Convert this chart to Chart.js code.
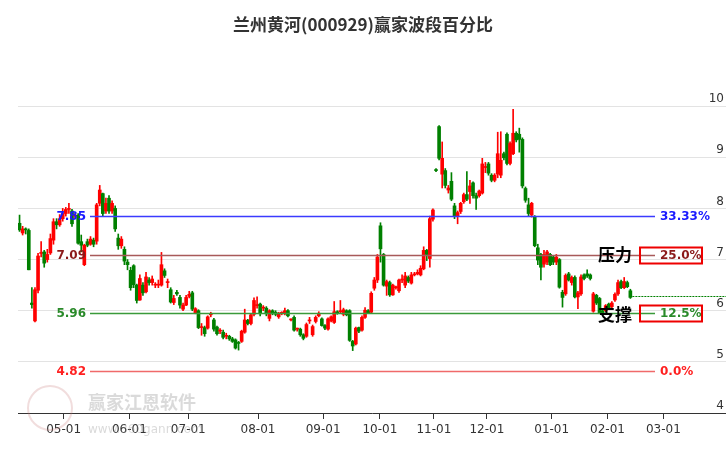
<!DOCTYPE html>
<html><head><meta charset="utf-8">
<script src="https://cdn.jsdelivr.net/npm/chart.js@4/dist/chart.umd.min.js"></script>
<style>html,body{margin:0;padding:0;background:#fff}#w{width:726px;height:450px}</style>
</head><body><div id="w"><canvas id="c"></canvas></div>
<script>
const candles = [
[7.71,7.58,7.87,7.55],[7.52,7.6,7.65,7.48],[7.6,7.58,7.62,7.5],[7.57,6.8,7.6,6.8],[6.15,6.12,6.45,6.05],
[5.8,6.41,6.45,5.78],[6.4,7.07,7.12,6.35],[7.12,7.13,7.35,7.05],[7.15,6.93,7.18,6.85],[7.0,7.1,7.2,6.95],
[7.13,7.41,7.5,7.1],[7.38,7.74,7.8,7.3],[7.74,7.68,7.8,7.6],[7.68,7.8,7.88,7.65],[7.8,7.9,8.0,7.75],
[7.9,7.98,8.02,7.85],[7.98,8.0,8.1,7.9],[7.95,7.7,7.98,7.65],[7.85,7.85,7.9,7.8],[7.87,7.32,7.9,7.3],
[7.35,7.28,7.48,7.15],[6.9,7.28,7.3,6.88],[7.35,7.28,7.4,7.25],[7.3,7.4,7.45,7.28],[7.38,7.3,7.42,7.25],
[7.36,8.07,8.1,7.3],[8.1,8.36,8.45,8.05],[8.29,7.9,8.3,7.85],[7.95,8.1,8.2,7.9],[8.2,7.95,8.25,7.9],
[7.95,8.1,8.15,7.9],[8.0,7.6,8.05,7.55],[7.42,7.27,7.5,7.2],[7.27,7.4,7.45,7.22],[7.2,6.97,7.25,6.9],
[6.95,6.9,7.0,6.8],[6.79,6.45,6.85,6.4],[6.88,6.51,6.9,6.45],[6.5,6.2,6.52,6.15],[6.21,6.63,6.7,6.2],
[6.5,6.35,6.55,6.3],[6.37,6.66,6.75,6.35],[6.6,6.55,6.65,6.5],[6.55,6.62,6.68,6.5],[6.5,6.5,6.55,6.45],
[6.5,6.5,6.6,6.45],[6.5,6.9,7.14,6.48],[6.78,6.69,6.82,6.65],[6.55,6.55,6.62,6.45],[6.41,6.17,6.45,6.15],
[6.16,6.24,6.3,6.12],[6.36,6.33,6.4,6.3],[6.26,6.11,6.3,6.05],[6.03,6.11,6.15,6.0],[6.11,6.26,6.3,6.1],
[6.28,6.32,6.38,6.25],[6.35,6.03,6.38,6.0],[5.96,6.04,6.06,5.94],[6.0,5.67,6.02,5.65],[5.67,5.67,5.75,5.52],
[5.67,5.55,5.7,5.5],[5.66,5.88,5.9,5.64],[5.92,5.92,5.97,5.88],[5.82,5.64,5.85,5.6],[5.68,5.55,5.7,5.52],
[5.6,5.6,5.65,5.55],[5.58,5.48,5.62,5.45],[5.5,5.5,5.56,5.45],[5.5,5.45,5.52,5.42],[5.45,5.4,5.48,5.38],
[5.43,5.27,5.45,5.25],[5.38,5.36,5.4,5.23],[5.4,5.6,5.62,5.38],[5.58,5.82,6.03,5.56],[5.81,5.75,5.83,5.72],
[5.75,5.92,5.95,5.72],[5.93,6.2,6.25,5.9],[6.1,6.1,6.27,6.05],[6.13,5.94,6.15,5.9],[6.05,6.05,6.1,6.0],
[6.05,5.94,6.08,5.9],[5.85,6.0,6.02,5.8],[6.0,5.95,6.02,5.92],[5.97,5.93,6.0,5.9],[5.88,5.95,5.97,5.85],
[5.95,5.95,5.98,5.92],[5.94,6.0,6.05,5.92],[6.0,5.9,6.02,5.88],[5.82,5.82,5.84,5.8],[5.87,5.62,5.9,5.6],
[5.64,5.64,5.66,5.6],[5.64,5.53,5.66,5.5],[5.53,5.46,5.55,5.43],[5.5,5.73,5.76,5.48],[5.8,5.8,5.87,5.75],
[5.53,5.69,5.72,5.5],[5.79,5.87,5.9,5.76],[5.9,5.95,5.98,5.88],[5.84,5.71,5.86,5.7],[5.71,5.66,5.73,5.63],
[5.64,5.84,5.86,5.62],[5.8,5.88,5.9,5.78],[5.77,5.98,6.18,5.75],[5.98,5.95,6.0,5.93],[5.98,6.0,6.2,5.96],
[5.93,6.02,6.05,5.9],[6.0,5.92,6.02,5.9],[6.0,5.42,6.02,5.4],[5.4,5.31,5.42,5.22],[5.35,5.66,5.68,5.33],
[5.67,5.6,5.68,5.57],[5.62,5.87,5.9,5.6],[5.87,6.01,6.06,5.85],[6.0,5.96,6.02,5.94],[5.97,6.34,6.37,5.95],
[6.44,6.6,6.65,6.4],[6.6,7.05,7.1,6.55],[7.66,7.21,7.72,6.95],[7.1,6.5,7.12,6.48],[6.48,6.57,6.6,6.3],
[6.55,6.31,6.58,6.28],[6.31,6.5,6.52,6.3],[6.45,6.45,6.48,6.42],[6.39,6.6,6.62,6.36],[6.6,6.6,6.7,6.55],
[6.5,6.68,6.75,6.45],[6.65,6.58,6.68,6.55],[6.54,6.7,6.75,6.52],[6.7,6.7,6.75,6.68],[6.72,6.75,6.8,6.7],
[6.7,6.83,6.88,6.68],[6.82,7.18,7.25,6.8],[7.18,7.1,7.2,6.98],[7.02,7.8,7.85,6.85],[7.79,7.97,7.99,7.75],
[8.76,8.74,8.78,8.72],[9.6,8.98,9.62,8.95],[8.67,8.98,9.3,8.4],[8.74,8.45,8.78,8.4],[8.36,8.4,8.45,8.3],
[8.53,8.18,8.7,8.15],[8.05,7.84,8.1,7.8],[7.84,7.92,7.95,7.7],[7.94,8.1,8.12,7.9],[8.13,8.27,8.3,8.1],
[8.27,8.18,8.72,8.15],[8.33,8.44,8.55,8.1],[8.5,8.25,8.52,8.2],[8.25,8.2,8.3,7.98],[8.25,8.34,8.36,8.22],
[8.3,8.87,8.98,8.28],[8.8,8.82,8.9,8.7],[8.87,8.69,8.9,8.65],[8.65,8.55,8.68,8.52],[8.55,8.65,8.68,8.52],
[8.67,9.07,9.49,8.6],[8.65,8.94,9.5,8.6],[9.07,8.99,9.1,8.95],[9.45,8.88,9.48,8.85],[8.88,9.27,9.3,8.85],
[9.07,9.47,9.94,9.05],[9.47,9.34,9.5,9.3],[9.45,9.35,9.57,9.1],[9.35,8.44,9.38,8.4],[8.39,8.16,8.42,8.12],
[8.07,7.9,8.2,7.85],[7.87,8.1,8.12,7.83],[7.84,7.27,7.86,7.25],[7.23,6.99,7.3,6.9],[7.1,6.85,7.12,6.6],
[6.91,7.1,7.18,6.85],[6.95,7.15,7.18,6.9],[7.1,6.9,7.12,6.88],[7.05,6.95,7.07,6.9],[6.95,7.05,7.1,6.9],
[7.0,6.46,7.02,6.44],[6.36,6.26,6.4,6.07],[6.33,6.69,6.72,6.3],[6.72,6.6,6.75,6.58],[6.55,6.65,6.68,6.5],
[6.65,6.27,6.68,6.25],[6.27,6.35,6.38,6.04],[6.33,6.66,6.7,6.3],[6.7,6.63,6.72,6.6],[6.72,6.68,6.8,6.65],
[6.7,6.63,6.72,6.6],[5.99,6.33,6.36,5.97],[6.3,6.15,6.32,6.12],[6.24,5.96,6.26,5.94],[6.0,5.95,6.02,5.92],
[6.0,6.1,6.12,5.98],[6.13,6.05,6.15,6.02],[6.08,6.15,6.18,6.05],[6.21,6.32,6.35,6.18],[6.33,6.55,6.6,6.3],
[6.57,6.45,6.6,6.43],[6.45,6.57,6.65,6.43],[6.55,6.47,6.58,6.45],[6.39,6.26,6.42,6.24]
];
const monthLabels = ['05-01','06-01','07-01','08-01','09-01','10-01','11-01','12-01','01-01','02-01','03-01'];
const monthIdx = [14.3,35.6,54.7,77.3,98.4,116.8,134.3,151.5,172.5,190.6,208.7];
const yTicks = [4,5,6,7,8,9,10];
const levelValues = [7.85,7.09,5.96,4.82];
const levelLabels = ['7.85','7.09','5.96','4.82'];
const levelPct = ['33.33%','25.0%','12.5%','0.0%'];
const levelColors = ['#3b3bff','#a85a5a','#3a9a3a','#f06a6a'];
const levelTextColors = ['#1a1aff','#8b1a1a','#2a8a2a','#ff2020'];
const lastPrice = 6.28;

const RED='#ff0000', GREEN='#008000';
const col = candles.map(d => d[1] >= d[0] ? RED : GREEN);
const wicks = candles.map((d,i)=>({x:i,y:[d[3],d[2]]}));
const bodies = candles.map((d,i)=>({x:i,y:[d[0],d[1]]}));

const overlay = {
  id:'overlay',
  beforeDatasetsDraw(ch){
    const c=ch.ctx;
    c.save();
    c.strokeStyle='rgba(200,120,120,0.25)'; c.lineWidth=2;
    c.beginPath(); c.arc(50,408,22,0,Math.PI*2); c.stroke();
    c.fillStyle='rgba(150,150,150,0.35)';
    c.font='bold 18px "Noto Sans CJK SC"'; c.textBaseline='middle'; c.textAlign='left';
    c.fillText('赢家江恩软件',88,402);
    c.font='12px "DejaVu Sans"'; c.fillText('www.360gann.com',88,430);
    c.restore();
  },
  afterDatasetsDraw(ch){
    const c=ch.ctx, y=ch.scales.y;
    c.save();
    c.textBaseline='middle';
    levelValues.forEach((v,k)=>{
      const py=Math.round(y.getPixelForValue(v))+0.5;
      c.strokeStyle=levelColors[k]; c.lineWidth=1.5;
      c.beginPath(); c.moveTo(90,py); c.lineTo(655,py); c.stroke();
      c.font='bold 12px "DejaVu Sans"'; c.fillStyle=levelTextColors[k];
      c.textAlign='right'; c.fillText(levelLabels[k],86,py);
      c.textAlign='left'; c.fillText(levelPct[k],660,py);
      if(k===1||k===2){c.strokeStyle='#ee0000';c.lineWidth=2;c.strokeRect(640,py-8,62,16);}
    });
    c.font='bold 17px "Noto Sans CJK SC"'; c.fillStyle='#000'; c.textAlign='left';
    c.fillText('压力',598,y.getPixelForValue(levelValues[1]));
    c.fillText('支撑',598,y.getPixelForValue(levelValues[2])+2);
    const lp=Math.round(y.getPixelForValue(lastPrice))+0.5;
    c.strokeStyle=GREEN; c.lineWidth=1; c.setLineDash([2,1]);
    c.beginPath(); c.moveTo(ch.scales.x.getPixelForValue(candles.length-1)+2,lp); c.lineTo(726,lp); c.stroke();
    c.setLineDash([]);
    c.font='12px "DejaVu Sans"'; c.fillStyle='#333'; c.textAlign='right'; c.textBaseline='bottom';
    yTicks.forEach(t=>c.fillText(String(t),724,y.getPixelForValue(t)-1));
    c.font='bold 17px "Noto Sans CJK SC"'; c.fillStyle='#333'; c.textAlign='center'; c.textBaseline='middle';
    c.fillText('兰州黄河(000929)赢家波段百分比',363,25);
    c.restore();
  }
};

new Chart(document.getElementById('c'),{
  type:'bar',
  data:{datasets:[
    {data:wicks,backgroundColor:col,borderWidth:0,barThickness:1,grouped:false,order:2},
    {data:bodies,backgroundColor:col,borderWidth:0,barThickness:3,minBarLength:1,grouped:false,order:1}
  ]},
  options:{
    responsive:true,maintainAspectRatio:false,animation:false,
    layout:{padding:{left:18,top:55,right:0,bottom:0}},
    plugins:{legend:{display:false},tooltip:{enabled:false}},
    scales:{
      x:{type:'linear',min:-0.5,max:229,offset:false,
        afterBuildTicks(s){s.ticks=monthIdx.map(v=>({value:v}));},
        afterFit(s){s.height=37;},
        ticks:{autoSkip:false,maxRotation:0,color:'#333',font:{size:12,family:'DejaVu Sans'},
          callback:(v,i)=>monthLabels[i],padding:4},
        grid:{offset:false,drawOnChartArea:false,tickLength:6,color:'#333'},
        border:{color:'#333'}},
      y:{min:4,max:11,afterFit(s){s.width=0;},
        afterBuildTicks(s){s.ticks=yTicks.map(v=>({value:v}));},
        ticks:{display:false},grid:{color:'#e3e3e3',drawTicks:false},border:{display:false}}
    }
  },
  plugins:[overlay]
});
</script></body></html>
